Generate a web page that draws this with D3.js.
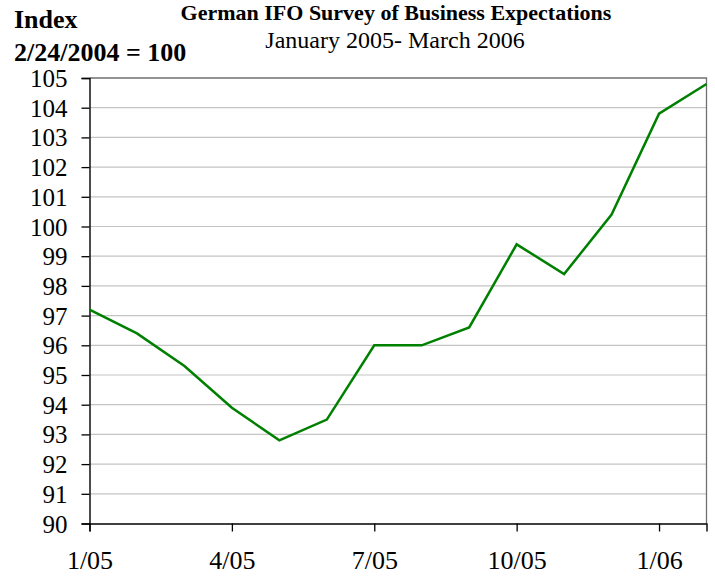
<!DOCTYPE html>
<html>
<head>
<meta charset="utf-8">
<script src="https://cdn.jsdelivr.net/npm/d3@7"></script>
<style>
  body { margin: 0; background: #fff; }
  svg text { font-family: "Liberation Serif", "Times New Roman", serif; fill: #000; }
</style>
</head>
<body>
<div id="chart"></div>
<script>
var svgWidth = 715;
var svgHeight = 576;

// data
var months = ["1/05", "2/05", "3/05", "4/05", "5/05", "6/05", "7/05",
              "8/05", "9/05", "10/05", "11/05", "12/05", "1/06", "2/06"];
var ifoValues = [97.2, 96.4, 95.3, 93.9, 92.8, 93.5, 96.0,
                 96.0, 96.6, 99.4, 98.4, 100.4, 103.8, 104.8];
var xTickIndex = [0, 3, 6, 9, 12];
var yTicks = d3.range(90, 106, 1);

var margin = { top: 78, right: 8.5, bottom: 52.5, left: 89.5 };
var width = svgWidth - margin.left - margin.right;
var height = svgHeight - margin.top - margin.bottom;

var svg = d3.select("#chart")
  .append("svg")
  .attr("width", svgWidth)
  .attr("height", svgHeight);

var chartGroup = svg.append("g")
  .attr("transform", `translate(${margin.left}, ${margin.top})`);

var xScale = d3.scaleLinear()
  .domain([0, months.length - 1])
  .range([0, width]);

var yScale = d3.scaleLinear()
  .domain([90, 105])
  .range([height, 0]);

// gridlines
chartGroup.selectAll(".grid")
  .data(yTicks.filter(d => d > 90 && d < 105))
  .enter()
  .append("line")
  .attr("x1", 0)
  .attr("x2", width)
  .attr("y1", d => yScale(d))
  .attr("y2", d => yScale(d))
  .attr("stroke", "#c4c4c4")
  .attr("stroke-width", 1.2);

// top and right frame
chartGroup.append("path")
  .attr("d", `M0,${yScale(105)}H${width}V${height}`)
  .attr("fill", "none")
  .attr("stroke", "#707070")
  .attr("stroke-width", 1.3);

// y axis
var leftAxis = d3.axisLeft(yScale)
  .tickValues(yTicks)
  .tickSize(8)
  .tickPadding(14)
  .tickFormat(d3.format("d"));

var yAxisGroup = chartGroup.append("g").call(leftAxis);
yAxisGroup.attr("font-family", null);
yAxisGroup.select(".domain").attr("stroke-width", 1.4);
yAxisGroup.selectAll(".tick line").attr("stroke-width", 1.3);
yAxisGroup.selectAll("text")
  .style("font-family", "'Liberation Serif', serif")
  .style("font-size", "25px")
  .attr("dy", "0.34em");

// x axis
var bottomAxis = d3.axisBottom(xScale)
  .tickValues(xTickIndex)
  .tickSize(8)
  .tickPadding(19)
  .tickFormat(i => months[i]);

var xAxisGroup = chartGroup.append("g")
  .attr("transform", `translate(0, ${height})`)
  .call(bottomAxis);
xAxisGroup.attr("font-family", null);
xAxisGroup.select(".domain").attr("stroke-width", 1.4);
xAxisGroup.selectAll(".tick line").attr("stroke-width", 1.3);
xAxisGroup.selectAll("text")
  .style("font-family", "'Liberation Serif', serif")
  .style("font-size", "26px");

// the line
var line = d3.line()
  .x((d, i) => xScale(i))
  .y(d => yScale(d));

chartGroup.append("path")
  .datum(ifoValues)
  .attr("d", line)
  .attr("fill", "none")
  .attr("stroke", "#008000")
  .attr("stroke-width", 2.5);

// titles
svg.append("text")
  .attr("x", 396)
  .attr("y", 20)
  .attr("text-anchor", "middle")
  .attr("font-size", 22)
  .attr("font-weight", "bold")
  .text("German IFO Survey of Business Expectations");

svg.append("text")
  .attr("x", 395)
  .attr("y", 48)
  .attr("text-anchor", "middle")
  .attr("font-size", 24)
  .text("January 2005- March 2006");

svg.append("text")
  .attr("x", 14)
  .attr("y", 28)
  .attr("font-size", 26)
  .attr("font-weight", "bold")
  .text("Index");

svg.append("text")
  .attr("x", 14)
  .attr("y", 61)
  .attr("font-size", 26)
  .attr("font-weight", "bold")
  .text("2/24/2004 = 100");
</script>
</body>
</html>
